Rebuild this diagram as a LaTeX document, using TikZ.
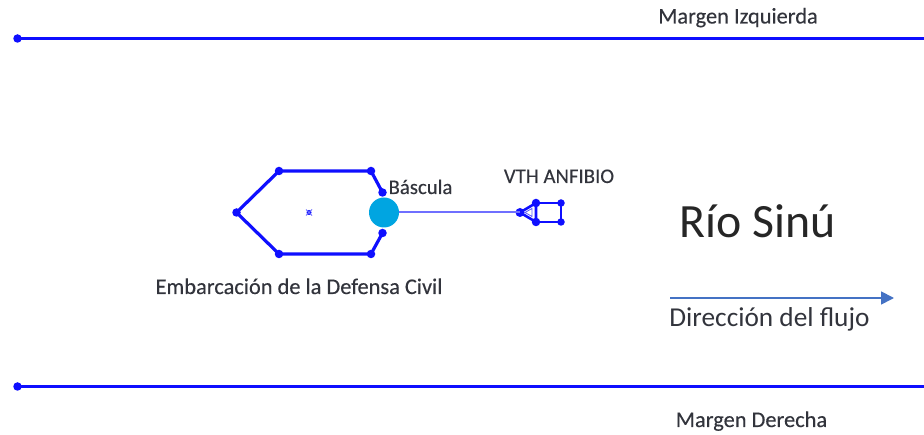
\documentclass[tikz,border=0pt]{standalone}
\usepackage{fontspec}
\setmainfont{Carlito}
\newfontfamily\labelfont[FakeBold=0.25]{Carlito}
\usetikzlibrary{arrows.meta}
\definecolor{lineblue}{RGB}{15,15,255}
\definecolor{basculacol}{RGB}{0,165,225}
\definecolor{flowblue}{RGB}{68,114,196}
\definecolor{txt}{RGB}{50,52,60}
\tikzset{
  x=1pt,y=-1pt,
  bankline/.style={draw=lineblue,line width=3pt},
  hull/.style={draw=lineblue,line width=3.2pt},
  vth/.style={draw=lineblue,line width=1.8pt},
  towline/.style={draw=lineblue!60!white,line width=2pt},
  vertexdot/.style={circle,fill=lineblue,inner sep=0pt,minimum size=#1},
  vertexdot/.default=8.5pt,
  label text/.style={inner sep=0pt,text=txt,font=\labelfont\fontsize{22.4pt}{24pt}\selectfont,anchor=base},
  small label/.style={label text,font=\labelfont\fontsize{20.8pt}{23pt}\selectfont}
}
\begin{document}
\begin{tikzpicture}
\useasboundingbox (0,0) rectangle (924,435);
% river banks
\node[vertexdot] (izqA) at (17.5,38.5) {};
\coordinate (izqB) at (924,38.5);
\node[vertexdot] (derA) at (17.5,386.5) {};
\coordinate (derB) at (924,386.5);
\draw[bankline] (izqA.center) -- (izqB);
\draw[bankline] (derA.center) -- (derB);
% boat
\node[vertexdot] (b1) at (236.5,212.5) {};
\node[vertexdot] (b2) at (279,171) {};
\node[vertexdot] (b3) at (371,171) {};
\node[vertexdot] (b4) at (382.5,192.5) {};
\node[vertexdot] (b5) at (382.5,233) {};
\node[vertexdot] (b6) at (371,254) {};
\node[vertexdot] (b7) at (279,254) {};
\draw[hull] (b4.center) -- (b3.center) -- (b2.center) -- (b1.center) -- (b7.center) -- (b6.center) -- (b5.center);
\node[vertexdot=5pt] (bc) at (309,212.5) {};
\draw[lineblue!60!white,line width=.8pt] (306,209.5) -- (312,215.5) (306,215.5) -- (312,209.5);
% VTH
\node[vertexdot=9pt] (v1) at (520,212.5) {};
\node[vertexdot] (v2) at (536,203) {};
\node[vertexdot] (v3) at (536,222) {};
\node[vertexdot=7.5pt] (v4) at (561,203) {};
\node[vertexdot=7.5pt] (v5) at (561,222) {};
\draw[vth] (v2.center) -- (v4.center) -- (v5.center) -- (v3.center);
\draw[hull,line width=2.6pt] (v1.center) -- (v2.center) -- (v3.center) -- cycle;
\draw[lineblue!70!white,line width=.8pt] (525,212.5) -- (532,208.5) -- (532,216.5) -- cycle;
% scale and tow line
\node[circle,fill=basculacol,minimum size=30pt,inner sep=0pt] (bas) at (384,212.5) {};
\draw[towline] (bas.east) -- (v1.center);
% flow arrow
\coordinate (fa) at (670,298);
\coordinate (fb) at (894,298);
\draw[flowblue,line width=1.8pt,-{Triangle[length=13pt,width=13pt]}] (fa) -- (fb);
% labels
\node[label text] at (738,23.5) {Margen Izquierda};
\node[label text] at (751.5,427) {Margen Derecha};
\node[small label] at (420.5,194) {Báscula};
\node[small label] at (559,183) {VTH ANFIBIO};
\node[label text] at (299,294) {Embarcación de la Defensa Civil};
\node[label text,font=\fontsize{47.8pt}{50pt}\selectfont,text=black!85] at (758,237.5) {Río Sinú};
\node[label text,font=\fontsize{27.3pt}{30pt}\selectfont] at (769.5,327) {Dirección del flujo};
\end{tikzpicture}
\end{document}
